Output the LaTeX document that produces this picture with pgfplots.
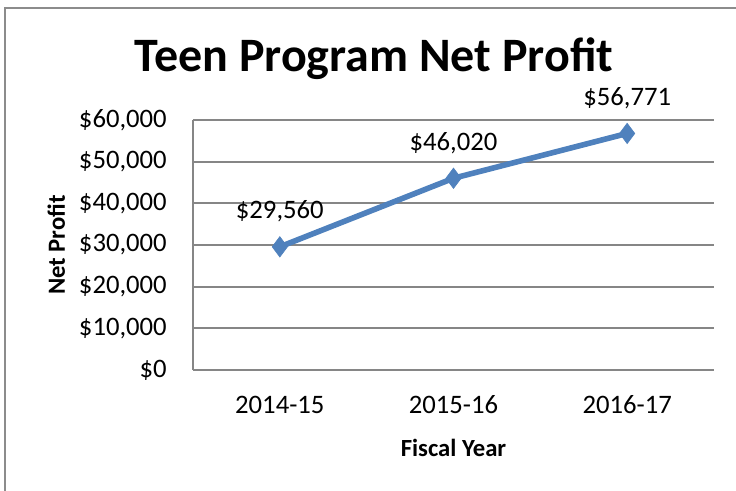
\documentclass[border=0pt]{standalone}
\usepackage{fontspec}
\setmainfont{Carlito}
\usepackage{pgfplots}
\pgfplotsset{compat=1.18}
\usetikzlibrary{calc}
\definecolor{SeriesBlue}{HTML}{4F81BD}
\definecolor{GridGray}{HTML}{868686}
\definecolor{FrameGray}{HTML}{8C8C8C}

\begin{document}
\begin{tikzpicture}
\begin{axis}[
  scale only axis,
  width=390.75pt,
  height=187.5pt,
  xmin=-0.5, xmax=2.5,
  ymin=0, ymax=60000,
  axis x line=bottom,
  axis y line=left,
  axis line style={GridGray, line width=1.5pt, -},
  xtick={0,1,2},
  xticklabels={2014-15,2015-16,2016-17},
  ytick={0,10000,20000,30000,40000,50000,60000},
  yticklabels={{\$0},{\$10,000},{\$20,000},{\$30,000},{\$40,000},{\$50,000},{\$60,000}},
  scaled y ticks=false,
  major tick length=0pt,
  ymajorgrids,
  grid style={GridGray, line width=1.5pt},
  ticklabel style={font=\fontsize{20}{24}\selectfont, inner sep=0pt},
  xticklabel style={anchor=base, yshift=-33pt},
  yticklabel style={anchor=east, xshift=-19.5pt},
  clip=false,
  point meta=explicit symbolic,
  nodes near coords,
  every node near coord/.append style={anchor=base, yshift=21pt, inner sep=0pt,
    font=\fontsize{20}{24}\selectfont, text=black},
]
\addplot[SeriesBlue, line width=4.2pt, mark=diamond*, mark size=7.6pt,
  mark options={solid, fill=SeriesBlue, draw=SeriesBlue, line width=0.5pt}]
  coordinates {(0,29560) [\$29,560] (1,46020) [\$46,020] (2,56771) [\$56,771]};
\coordinate (sw) at (rel axis cs:0,0);
\coordinate (nw) at (rel axis cs:0,1);
\coordinate (se) at (rel axis cs:1,0);
\end{axis}
% title and axis titles
\node[anchor=base, inner sep=0pt, font=\fontsize{36}{42}\selectfont\bfseries]
  at ($(sw)+(135.75pt,223.5pt)$) {Teen Program Net Profit};
\node[anchor=base, inner sep=0pt, font=\fontsize{18.5}{22}\selectfont\bfseries]
  at ($(sw)!0.5!(se)+(0,-65.25pt)$) {Fiscal Year};
\node[anchor=base, rotate=90, inner sep=0pt, font=\fontsize{18.5}{22}\selectfont\bfseries]
  at ($(sw)!0.5!(nw)+(-96pt,0)$) {Net Profit};
% chart frame, cut off at right and bottom
\draw[FrameGray, line width=1.5pt] ($(sw)+(-141pt,-100pt)$) -- ($(sw)+(-141pt,271.5pt)$) -- ($(sw)+(420pt,271.5pt)$);
\pgfresetboundingbox
\path[use as bounding box] ($(sw)+(-144.75pt,-90.75pt)$) rectangle ($(sw)+(407.25pt,277.5pt)$);
\end{tikzpicture}
\end{document}
